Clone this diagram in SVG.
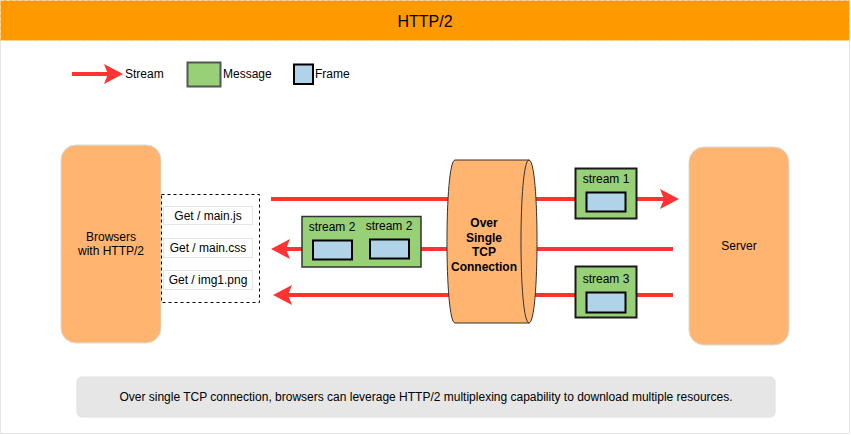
<svg xmlns="http://www.w3.org/2000/svg" width="851" height="435" viewBox="0 0 851 435">
<defs>
<style>
text{font-family:"Liberation Sans",Arial,Helvetica,sans-serif;font-size:12px;fill:#000}
.c{text-anchor:middle}
.b{font-weight:bold}
.orange{fill:#FFB570;stroke:#D9D9D9;stroke-width:1}
.msg{fill:#97D077;stroke:#1a1a1a;stroke-width:2}
.frm{fill:#B1D3E9;stroke:#000;stroke-width:2}
.req{fill:#FFFFFF;stroke:#E6E6E6;stroke-width:1}
.flow{fill:none;stroke:#FF3333;stroke-width:4}
</style>
<marker id="ah" markerUnits="userSpaceOnUse" markerWidth="20" markerHeight="20" viewBox="0 0 19 20" refX="4" refY="10" orient="auto">
<path d="M0,0 L19,10 L0,20 L4,10 Z" fill="#FF3333"/>
</marker>
</defs>
<rect x="0.5" y="0.5" width="849" height="433" fill="#FFFFFF" stroke="#E6E6E6"/>
<g id="title">
<rect x="0.5" y="0.5" width="849" height="40" fill="#FF9900" stroke="#FFD699" stroke-dasharray="3 3"/>
<text x="425" y="27" class="c" style="font-size:16px">HTTP/2</text>
</g>
<g id="legend">
<line x1="72" y1="74" x2="108" y2="74" class="flow" marker-end="url(#ah)"/>
<text x="125" y="78">Stream</text>
<rect x="187.5" y="62.5" width="33" height="24" fill="#97D077" stroke="#555" stroke-width="2"/>
<text x="223" y="78">Message</text>
<rect x="294" y="64.5" width="19" height="19.5" class="frm"/>
<text x="315" y="78">Frame</text>
</g>
<g id="connectors">
<line x1="271" y1="199" x2="664" y2="199" class="flow" marker-end="url(#ah)"/>
<line x1="673" y1="249" x2="286" y2="249" class="flow" marker-end="url(#ah)"/>
<line x1="673" y1="295" x2="288" y2="295" class="flow" marker-end="url(#ah)"/>
</g>
<g id="browser">
<rect x="61" y="145" width="100" height="198" rx="15" class="orange"/>
<text x="111" y="241" class="c">Browsers</text>
<text x="111" y="255" class="c">with HTTP/2</text>
</g>
<g id="requests">
<rect x="161.5" y="194.5" width="98" height="108" fill="none" stroke="#000" stroke-dasharray="3 3"/>
<rect x="163.5" y="206.5" width="89" height="18" class="req"/>
<text x="208" y="220" class="c">Get / main.js</text>
<rect x="163.5" y="238.5" width="89" height="19" class="req"/>
<text x="208" y="252" class="c">Get / main.css</text>
<rect x="163.5" y="270.5" width="89" height="19" class="req"/>
<text x="208" y="284" class="c">Get / img1.png</text>
</g>
<g id="tcp">
<path d="M455,160 L529,160 C539.7,160 539.7,323 529,323 L455,323 C444.3,323 444.3,160 455,160 Z" fill="#FFB570" stroke="#333" stroke-width="1"/>
<path d="M529,160 C518.3,160 518.3,323 529,323" fill="none" stroke="#333" stroke-width="1"/>
<text x="484" y="227" class="c b">Over</text>
<text x="484" y="241.5" class="c b">Single</text>
<text x="484" y="256" class="c b">TCP</text>
<text x="484" y="270.5" class="c b">Connection</text>
</g>
<g id="msg-stream2">
<rect x="302" y="216.5" width="119" height="50.5" fill="#97D077" stroke="#333" stroke-width="1.5"/>
<text x="332" y="231" class="c">stream 2</text>
<text x="389" y="230" class="c">stream 2</text>
<rect x="313" y="240.5" width="39" height="19" class="frm"/>
<rect x="370" y="239.5" width="39" height="19" class="frm"/>
</g>
<g id="msg-stream1">
<rect x="575.5" y="168.5" width="61" height="50" class="msg"/>
<text x="606" y="183" class="c">stream 1</text>
<rect x="586.5" y="192.5" width="39" height="19" class="frm"/>
</g>
<g id="msg-stream3">
<rect x="575.5" y="266.5" width="61" height="51" class="msg"/>
<text x="606" y="283" class="c">stream 3</text>
<rect x="586.5" y="292.5" width="39" height="20" class="frm"/>
</g>
<g id="server">
<rect x="689" y="147" width="100" height="198" rx="15" class="orange"/>
<text x="739" y="250" class="c">Server</text>
</g>
<g id="caption">
<rect x="77" y="377" width="698" height="40" rx="5" fill="#E6E6E6" stroke="#E0E0E0"/>
<text x="426" y="401" class="c">Over single TCP connection, browsers can leverage HTTP/2 multiplexing capability to download multiple resources.</text>
</g>
</svg>
